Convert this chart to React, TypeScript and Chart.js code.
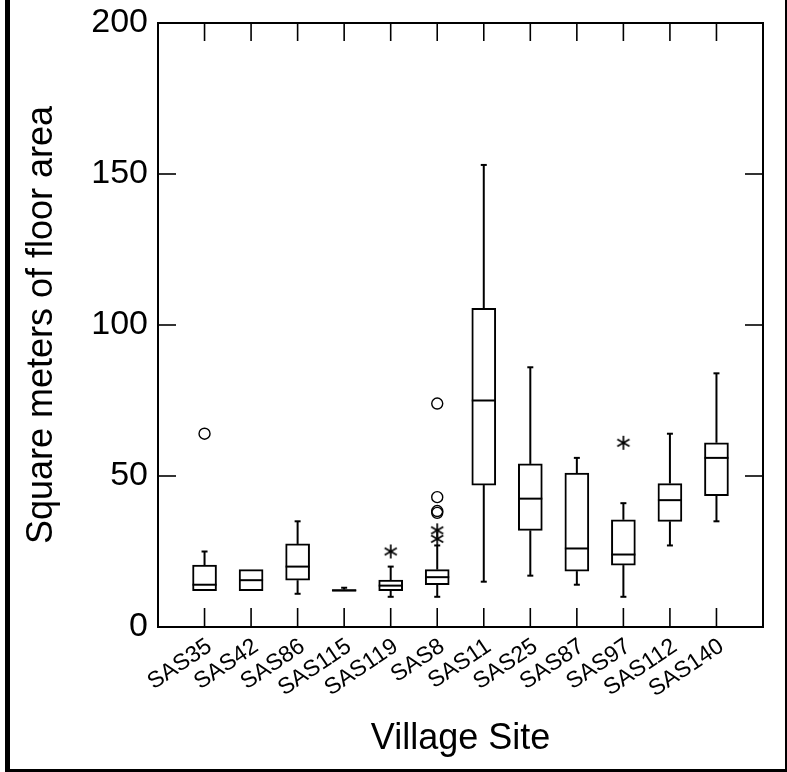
import React, { useEffect, useRef } from 'react';
import { Chart, registerables } from 'chart.js';

Chart.register(...registerables);

const categories = ['SAS35', 'SAS42', 'SAS86', 'SAS115', 'SAS119', 'SAS8', 'SAS11', 'SAS25', 'SAS87', 'SAS97', 'SAS112', 'SAS140'];
const whiskerLow = [12, 12, 11, 11.9, 10, 10, 15, 17, 14, 10, 27, 35];
const q1 = [12, 12, 15.5, 11.9, 12, 14, 47, 32, 18.5, 20.5, 35, 43.5];
const median = [14, 15.5, 20, 12.1, 13.7, 16.5, 75, 42.5, 26, 24, 42, 56];
const q3 = [20.5, 19, 27.5, 12.4, 15.5, 19, 105.5, 54, 51, 35.5, 47.5, 61];
const whiskerHigh = [25, 19, 35, 13, 20, 27, 153, 86, 56, 41, 64, 84];

const circleSites = ['SAS35', 'SAS8', 'SAS8', 'SAS8', 'SAS8'];
const circleValues = [64, 74, 43, 38.4, 37.8];
const starSites = ['SAS119', 'SAS8', 'SAS8', 'SAS97'];
const starValues = [25, 32, 29.2, 61];

const yTicks = [0, 50, 100, 150, 200];

const FONT = "'Liberation Sans', Arial, Helvetica, sans-serif";

function makeAsterisk(): HTMLCanvasElement {
  const c = document.createElement('canvas');
  c.width = 18;
  c.height = 18;
  const g = c.getContext('2d')!;
  g.strokeStyle = '#000';
  g.lineWidth = 1.7;
  const r = 7;
  for (let k = 0; k < 3; k++) {
    const a = (k * Math.PI) / 3;
    const dx = Math.sin(a) * r;
    const dy = Math.cos(a) * r;
    g.beginPath();
    g.moveTo(9 - dx, 9 - dy);
    g.lineTo(9 + dx, 9 + dy);
    g.stroke();
  }
  return c;
}

const decor = {
  id: 'decor',
  afterDatasetsDraw(chart: any) {
    const { ctx, scales } = chart;
    const x = scales.x;
    const y = scales.y;
    const meta = chart.getDatasetMeta(0);
    ctx.save();
    ctx.strokeStyle = '#000';
    ctx.lineWidth = 2;
    const line = (x1: number, y1: number, x2: number, y2: number) => {
      ctx.beginPath();
      ctx.moveTo(x1, y1);
      ctx.lineTo(x2, y2);
      ctx.stroke();
    };
    categories.forEach((_, i) => {
      const px = x.getPixelForValue(i + 1);
      const bw = meta.data[i] ? meta.data[i].width : 24;
      const yq1 = y.getPixelForValue(q1[i]);
      const yq3 = y.getPixelForValue(q3[i]);
      const ylo = y.getPixelForValue(whiskerLow[i]);
      const yhi = y.getPixelForValue(whiskerHigh[i]);
      const ym = y.getPixelForValue(median[i]);
      if (whiskerHigh[i] > q3[i]) {
        line(px, yq3, px, yhi);
        line(px - 3, yhi, px + 3, yhi);
      }
      if (whiskerLow[i] < q1[i]) {
        line(px, yq1, px, ylo);
        line(px - 3, ylo, px + 3, ylo);
      }
      line(px - bw / 2, ym, px + bw / 2, ym);
    });
    ctx.restore();
  },
  afterDraw(chart: any) {
    const { ctx, chartArea, scales } = chart;
    const { left, right, top, bottom } = chartArea;
    ctx.save();
    ctx.fillStyle = '#000';
    // outer frame
    ctx.fillRect(5, 0, 5, 772);
    ctx.fillRect(785, 0, 2, 772);
    ctx.fillRect(5, 769, 782, 3);
    // plot rectangle
    ctx.strokeStyle = '#000';
    ctx.lineWidth = 2;
    ctx.strokeRect(left, top, right - left, bottom - top);
    // inner ticks
    ctx.lineWidth = 1.6;
    const line = (x1: number, y1: number, x2: number, y2: number) => {
      ctx.beginPath();
      ctx.moveTo(x1, y1);
      ctx.lineTo(x2, y2);
      ctx.stroke();
    };
    yTicks.forEach((v) => {
      const py = scales.y.getPixelForValue(v);
      line(left, py, left + 18, py);
      line(right - 18, py, right, py);
    });
    categories.forEach((_, i) => {
      const px = scales.x.getPixelForValue(i + 1);
      line(px, bottom, px, bottom - 19);
      line(px, top, px, top + 18);
    });
    ctx.restore();
  },
};

export default function App() {
  const ref = useRef<HTMLCanvasElement | null>(null);

  useEffect(() => {
    if (!ref.current) return;
    const star = makeAsterisk();
    const idx = (s: string) => categories.indexOf(s) + 1;
    const chart = new Chart(ref.current, {
      type: 'bar',
      data: {
        datasets: [
          {
            type: 'bar',
            data: categories.map((c, i) => ({ x: i + 1, y: [q1[i], q3[i]] })) as any,
            backgroundColor: '#ffffff',
            borderColor: '#000000',
            borderWidth: 2,
            borderSkipped: false,
            barThickness: 24,
          } as any,
          {
            type: 'scatter',
            data: circleSites.map((s, i) => ({ x: idx(s), y: circleValues[i] })),
            pointStyle: 'circle',
            pointRadius: 5.5,
            pointBorderWidth: 1.4,
            pointBorderColor: '#000',
            pointBackgroundColor: 'rgba(0,0,0,0)',
          } as any,
          {
            type: 'scatter',
            data: starSites.map((s, i) => ({ x: idx(s), y: starValues[i] })),
            pointStyle: star,
            pointRadius: 7,
          } as any,
        ],
      },
      options: {
        responsive: false,
        animation: false,
        events: [],
        layout: { padding: { left: 0, top: 23, right: 24, bottom: 0 } },
        plugins: { legend: { display: false }, tooltip: { enabled: false } },
        scales: {
          x: {
            type: 'linear',
            min: 0,
            max: 13,
            offset: false,
            grid: { display: false, drawTicks: false, offset: false },
            border: { display: false },
            afterBuildTicks: (s: any) => {
              s.ticks = categories.map((_, i) => ({ value: i + 1 }));
            },
            afterFit: (s: any) => {
              s.height = 145;
              s.paddingLeft = 0;
              s.paddingRight = 0;
            },
            ticks: {
              autoSkip: false,
              minRotation: 34,
              maxRotation: 34,
              padding: 6,
              labelOffset: 5,
              color: '#000',
              font: { family: FONT, size: 23 },
              callback: (v: any) => categories[Number(v) - 1] ?? '',
            },
            title: {
              display: true,
              text: 'Village Site',
              color: '#000',
              font: { family: FONT, size: 36 },
              padding: { top: 0, bottom: 11 },
            },
          },
          y: {
            type: 'linear',
            min: 0,
            max: 200,
            grid: { display: false, drawTicks: false },
            border: { display: false },
            afterFit: (s: any) => {
              s.width = 158;
              s.paddingTop = 0;
              s.paddingBottom = 0;
            },
            ticks: {
              stepSize: 50,
              padding: 10,
              color: '#000',
              font: { family: FONT, size: 34 },
            },
            title: {
              display: true,
              text: 'Square meters of floor area',
              color: '#000',
              font: { family: FONT, size: 36 },
              padding: { top: 20, bottom: 0 },
            },
          },
        },
      },
      plugins: [decor],
    });
    return () => chart.destroy();
  }, []);

  return (
    <div style={{ position: 'absolute', left: 0, top: 0, width: 787, height: 772, background: '#fff' }}>
      <canvas ref={ref} width={787} height={772} style={{ display: 'block', width: 787, height: 772 }} />
    </div>
  );
}
